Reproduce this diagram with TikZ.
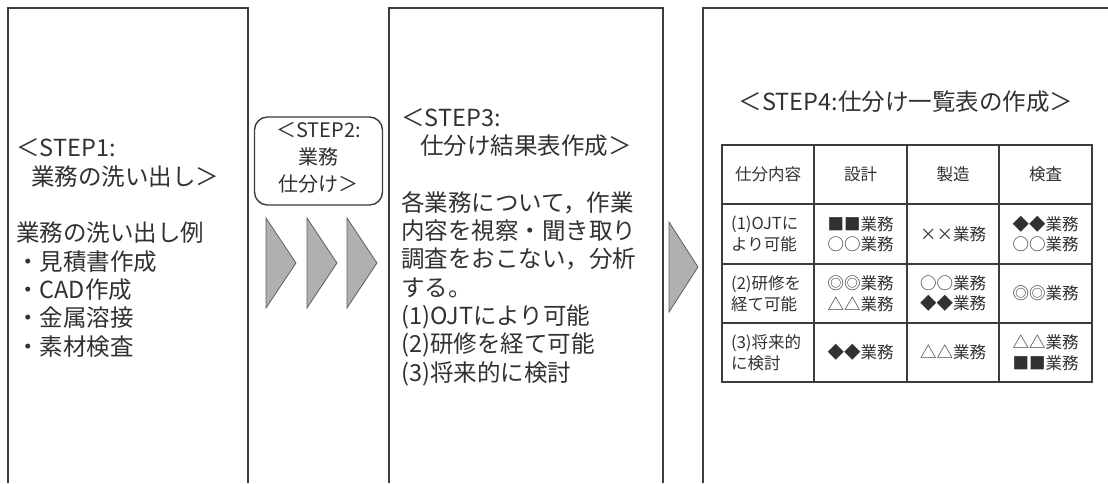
\documentclass[tikz,border=0pt]{standalone}
\usepackage{fontspec}
\setmainfont{Noto Sans CJK JP}
\definecolor{ink}{RGB}{50,48,48}
\definecolor{linegray}{RGB}{60,60,60}
\definecolor{chevfill}{RGB}{176,176,179}
\definecolor{chevline}{RGB}{95,95,95}
\begin{document}
\begin{tikzpicture}[x=1pt,y=-1pt,
  frame/.style={draw=linegray, line width=1.4pt},
  chev/.style={fill=chevfill, draw=chevline, line width=0.8pt},
  bigtext/.style={font=\fontsize{23.5}{28.3}\selectfont, text=ink, inner sep=0pt, align=left},
  midtext/.style={font=\fontsize{20}{27}\selectfont, text=ink, inner sep=0pt, align=center},
  celltext/.style={font=\fontsize{16.5}{20.5}\selectfont, text=ink, inner sep=0pt, align=center},
  rowtext/.style={font=\fontsize{16.5}{20.5}\selectfont, text=ink, inner sep=0pt, align=left},
  grid/.style={draw=linegray, line width=1.5pt}
]
\useasboundingbox (0,0) rectangle (1108,483);
% frames
\draw[frame] (8,483) -- (8,8) -- (248,8) -- (248,483);
\draw[frame] (389,483) -- (389,8) -- (663,8) -- (663,483);
\draw[frame] (703,483) -- (703,8) -- (1108,8);

% STEP1
\node[bigtext, anchor=west] (s1) at (16,248) {＜STEP1:\\
\hspace*{0.65em}業務の洗い出し＞\\[28.3pt]
業務の洗い出し例\\
・見積書作成\\
・CAD作成\\
・金属溶接\\
・素材検査};

% STEP2
\node[draw=linegray, line width=1.4pt, rounded corners=13pt, minimum width=128pt, minimum height=88pt, inner sep=0pt] (s2box) at (318.5,161) {};
\node[midtext] (s2) at (318.5,158) {＜STEP2:\\業務\\仕分け＞};
\draw[chev] (266,218) -- (296,263) -- (266,308) -- cycle;
\draw[chev] (307,218) -- (337,263) -- (307,308) -- cycle;
\draw[chev] (347,218) -- (377,263) -- (347,308) -- cycle;

% STEP3
\node[bigtext, anchor=west] (s3) at (401,247) {＜STEP3:\\
\hspace*{0.8em}仕分け結果表作成＞\\[28.3pt]
各業務について，作業\\
内容を視察・聞き取り\\
調査をおこない，分析\\
する。\\
(1)OJTにより可能\\
(2)研修を経て可能\\
(3)将来的に検討};

\draw[chev] (669,222) -- (698,267) -- (669,312) -- cycle;

% STEP4
\node[bigtext, anchor=center] (s4) at (906,102) {＜STEP4:仕分け一覧表の作成＞};

% table grid
\draw[grid] (722,145) rectangle (1092,382);
\foreach \yy in {204,264,323} \draw[grid] (722,\yy) -- (1092,\yy);
\foreach \xx in {814,907,999} \draw[grid] (\xx,145) -- (\xx,382);

\node[celltext] (h0) at (768,174.5) {仕分内容};
\node[celltext] (h1) at (860.5,174.5) {設計};
\node[celltext] (h2) at (953,174.5) {製造};
\node[celltext] (h3) at (1045.5,174.5) {検査};

\node[rowtext, anchor=west] (r1) at (731,234) {(1)OJTに\\より可能};
\node[rowtext, anchor=west] (r2) at (731,293.5) {(2)研修を\\経て可能};
\node[rowtext, anchor=west] (r3) at (731,352.5) {(3)将来的\\に検討};

\node[celltext] (c11) at (860.5,234) {■■業務\\○○業務};
\node[celltext] (c12) at (953,234) {\makebox[1em]{×}\makebox[1em]{×}業務};
\node[celltext] (c13) at (1045.5,234) {◆◆業務\\○○業務};

\node[celltext] (c21) at (860.5,293.5) {◎◎業務\\△△業務};
\node[celltext] (c22) at (953,293.5) {○○業務\\◆◆業務};
\node[celltext] (c23) at (1045.5,293.5) {◎◎業務};

\node[celltext] (c31) at (860.5,352.5) {◆◆業務};
\node[celltext] (c32) at (953,352.5) {△△業務};
\node[celltext] (c33) at (1045.5,352.5) {△△業務\\■■業務};
\end{tikzpicture}
\end{document}
